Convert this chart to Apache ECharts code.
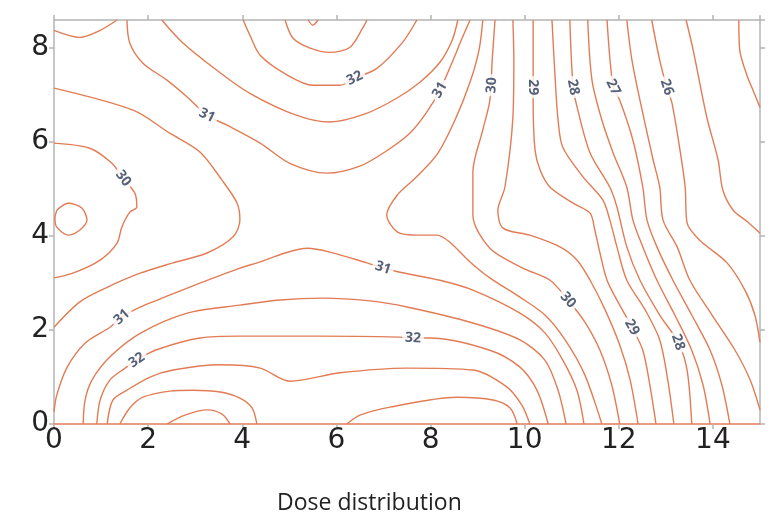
<!DOCTYPE html>
<html>
<head>
<meta charset="utf-8">
<script src="https://cdn.jsdelivr.net/npm/echarts@6/dist/echarts.min.js"></script>
<style>
html, body { margin: 0; padding: 0; background: #fff; }
#chart { width: 772px; height: 516px; }
</style>
</head>
<body>
<div id="chart"></div>
<script>
// contour lines, [x, y] in data units
const c31corner = [[0, 8.38], [0.55, 8.23], [0.98, 8.38], [1.34, 8.6]];
const c305left = [[0, 7.15], [1.68, 6.68], [2.46, 6.19], [3.10, 5.79], [3.57, 5.19], [3.89, 4.70], [3.95, 4.34], [3.80, 3.98], [3.25, 3.64], [2.53, 3.43], [1.83, 3.21], [1.13, 2.91], [0.55, 2.60], [0, 2.06]];
const c30left = [[0, 5.98], [0.76, 5.87], [1.23, 5.55], [1.47, 5.23], [1.72, 4.91], [1.76, 4.62], [1.61, 4.51], [1.44, 4.19], [1.34, 3.85], [0.98, 3.49], [0.40, 3.21], [0, 3.11]];
const c295loop = [[0.06, 4.55], [0.30, 4.70], [0.59, 4.60], [0.70, 4.34], [0.55, 4.13], [0.30, 4.02], [0.06, 4.19], [0.02, 4.38], [0.06, 4.55]];
const c31top = [[1.55, 8.6], [1.61, 8.11], [1.89, 7.68], [2.40, 7.32], [2.83, 6.96], [3.25, 6.57], [3.68, 6.36], [4.38, 5.98], [5.01, 5.55], [5.80, 5.34], [6.50, 5.49], [7.03, 5.79], [7.56, 6.19], [7.92, 6.64], [8.20, 7.11], [8.46, 7.70], [8.67, 8.21], [8.84, 8.6]];
const c315top = [[2.29, 8.6], [2.74, 8.11], [3.46, 7.53], [4.16, 7.04], [5.16, 6.57], [5.86, 6.43], [6.61, 6.60], [7.29, 6.94], [7.78, 7.28], [8.20, 7.70], [8.46, 8.17], [8.58, 8.6]];
const c32top = [[4.02, 8.6], [4.16, 8.28], [4.38, 7.85], [4.95, 7.43], [5.50, 7.21], [6.08, 7.21], [6.39, 7.36], [6.86, 7.57], [7.41, 8.13], [7.71, 8.6]];
const c325top = [[4.91, 8.6], [5.08, 8.21], [5.44, 8.0], [5.86, 7.91], [6.29, 8.02], [6.56, 8.43], [6.65, 8.6]];
const c33top = [[5.40, 8.6], [5.50, 8.49], [5.61, 8.6]];
const c305right = [[9.11, 8.6], [9.03, 7.96], [8.84, 7.28], [8.52, 6.47], [8.14, 5.74], [7.67, 5.23], [7.29, 4.87], [7.07, 4.45], [7.29, 4.09], [7.73, 4.02], [8.14, 4.02], [8.41, 3.87], [8.84, 3.45], [9.26, 3.11], [9.90, 2.70], [10.43, 2.32], [10.86, 1.79], [11.28, 1.04], [11.64, 0]];
const c30right = [[9.37, 8.6], [9.31, 7.74], [9.26, 6.89], [9.11, 6.26], [8.90, 5.36], [8.90, 4.45], [9.26, 3.74], [9.96, 3.32], [10.54, 3.06], [10.92, 2.64], [11.28, 2.17], [11.60, 1.57], [11.85, 0.83], [12.02, 0]];
const c295right = [[9.75, 8.6], [9.77, 7.74], [9.75, 6.53], [9.58, 5.04], [9.43, 4.55], [9.54, 4.17], [10.11, 4.02], [10.75, 3.77], [11.11, 3.49], [11.39, 3.06], [11.71, 2.43], [12.02, 1.68], [12.24, 0.94], [12.41, 0]];
const c29 = [[10.18, 8.6], [10.18, 7.38], [10.18, 6.89], [10.22, 5.83], [10.33, 5.40], [10.54, 5.04], [11.03, 4.70], [11.39, 4.49], [11.49, 4.13], [11.60, 3.64], [11.75, 3.06], [12.02, 2.53], [12.28, 2.06], [12.51, 1.57], [12.66, 0.83], [12.79, 0]];
const c285 = [[10.58, 8.6], [10.65, 7.32], [10.71, 6.47], [10.81, 5.89], [11.24, 5.26], [11.66, 4.77], [11.81, 4.34], [11.96, 3.77], [12.17, 3.06], [12.56, 2.43], [12.87, 1.79], [13.04, 0.94], [13.17, 0]];
const c28 = [[10.96, 8.6], [11.03, 7.17], [11.13, 6.68], [11.39, 5.77], [11.81, 5.04], [11.96, 4.62], [12.17, 3.77], [12.45, 3.06], [12.87, 2.32], [13.26, 1.74], [13.45, 1.15], [13.55, 0]];
const c275 = [[11.34, 8.6], [11.43, 7.32], [11.64, 6.47], [11.88, 5.77], [12.17, 5.04], [12.30, 4.34], [12.51, 3.77], [12.81, 3.06], [13.19, 2.32], [13.55, 1.57], [13.79, 0.83], [13.94, 0]];
const c27 = [[11.75, 8.6], [11.88, 7.17], [12.02, 6.89], [12.30, 6.04], [12.51, 5.04], [12.60, 4.34], [12.81, 3.77], [13.15, 3.06], [13.55, 2.32], [13.94, 1.57], [14.19, 0.83], [14.36, 0]];
const c265 = [[12.17, 8.6], [12.28, 7.74], [12.45, 6.89], [12.73, 5.62], [12.87, 5.04], [12.94, 4.34], [13.24, 3.77], [13.51, 3.06], [13.98, 2.32], [14.47, 1.57], [14.79, 0.94], [15, 0.30]];
const c26 = [[12.70, 8.6], [12.87, 7.74], [13.02, 7.17], [13.13, 6.83], [13.30, 5.83], [13.41, 5.04], [13.45, 4.28], [13.72, 3.91], [14.30, 3.43], [14.68, 2.85], [14.89, 2.32], [15, 1.74]];
const c255 = [[13.43, 8.6], [13.58, 7.96], [13.87, 6.53], [14.11, 5.62], [14.21, 4.98], [14.43, 4.55], [14.74, 4.30], [15, 4.06]];
const c25 = [[14.55, 8.6], [14.57, 7.96], [14.72, 7.43], [14.85, 7.11], [15, 6.74]];
const c31low = [[0, 0.26], [0.06, 0.62], [0.28, 1.21], [0.66, 1.72], [1.19, 2.06], [1.44, 2.28], [1.83, 2.49], [2.25, 2.66], [3.10, 3.00], [3.95, 3.32], [4.38, 3.45], [4.91, 3.64], [5.38, 3.74], [5.86, 3.66], [6.65, 3.43], [6.99, 3.32], [7.35, 3.23], [8.20, 3.06], [8.90, 2.85], [9.90, 2.36], [10.43, 1.94], [10.81, 1.36], [11.11, 0.72], [11.26, 0]];
const c315low = [[0.62, 0], [0.66, 0.51], [0.81, 0.94], [1.19, 1.43], [1.83, 1.93], [2.83, 2.36], [3.95, 2.53], [4.80, 2.64], [5.71, 2.68], [6.71, 2.62], [7.50, 2.49], [8.90, 2.15], [9.90, 1.79], [10.43, 1.36], [10.71, 0.72], [10.88, 0]];
const c32low = [[0.91, 0], [0.98, 0.51], [1.19, 0.94], [1.51, 1.19], [1.76, 1.36], [2.15, 1.57], [3.10, 1.83], [3.95, 1.87], [5.65, 1.87], [7.35, 1.85], [7.63, 1.83], [7.99, 1.83], [9.26, 1.57], [9.90, 1.21], [10.26, 0.72], [10.50, 0]];
const c325low = [[1.13, 0], [1.25, 0.51], [1.55, 0.72], [2.04, 1.00], [2.53, 1.15], [3.53, 1.26], [4.38, 1.19], [5.01, 0.91], [6.08, 1.09], [7.50, 1.19], [8.90, 1.15], [9.62, 0.79], [9.94, 0.40], [10.11, 0]];
const c33lowL = [[1.40, 0], [1.61, 0.34], [1.89, 0.57], [2.46, 0.70], [2.95, 0.72], [3.53, 0.68], [3.95, 0.55], [4.21, 0.34], [4.31, 0]];
const c33lowR = [[6.22, 0], [6.50, 0.19], [7.14, 0.36], [8.56, 0.57], [9.33, 0.51], [9.69, 0.34], [9.84, 0]];
const c335 = [[2.40, 0], [2.78, 0.19], [3.25, 0.30], [3.57, 0.21], [3.74, 0]];

const contours = {
  c31corner, c305left, c30left, c295loop, c31top, c315top, c32top, c325top, c33top,
  c305right, c30right, c295right, c29, c285, c28, c275, c27, c265, c26, c255, c25,
  c31low, c315low, c32low, c325low, c33lowL, c33lowR, c335
};

// contour labels: [x, y, text, contour]
const contourLabels = [
  [3.25, 6.57, '31', 'c31top'],
  [1.47, 5.23, '30', 'c30left'],
  [6.39, 7.36, '32', 'c32top'],
  [8.20, 7.11, '31', 'c31top'],
  [9.30, 7.21, '30', 'c30right'],
  [10.18, 7.17, '29', 'c29'],
  [11.03, 7.17, '28', 'c28'],
  [11.88, 7.17, '27', 'c27'],
  [13.02, 7.17, '26', 'c26'],
  [6.99, 3.32, '31', 'c31low'],
  [1.44, 2.28, '31', 'c31low'],
  [1.76, 1.36, '32', 'c32low'],
  [7.63, 1.83, '32', 'c32low'],
  [10.92, 2.64, '30', 'c30right'],
  [12.28, 2.06, '29', 'c29'],
  [13.26, 1.74, '28', 'c28']
];

const lineColor = '#e27c55';
const frameColor = '#b4b4b4';

const chart = echarts.init(document.getElementById('chart'));

function axisCommon(max) {
  return {
    type: 'value',
    min: 0,
    max: max,
    interval: 2,
    splitLine: { show: false },
    axisTick: { show: true, length: 5, lineStyle: { color: frameColor, width: 1.5 } },
    axisLine: { show: true, onZero: false, lineStyle: { color: frameColor, width: 1.5 } }
  };
}

const tickFont = { fontSize: 28, color: '#222', fontFamily: 'DejaVu Sans' };

const option = {
  animation: false,
  backgroundColor: '#fff',
  title: {
    text: 'Dose distribution',
    left: 272,
    top: 487,
    textStyle: { fontSize: 23, fontWeight: 'normal', color: '#222', fontFamily: 'Open Sans' }
  },
  grid: { left: 54, right: 12, top: 20, bottom: 92 },
  xAxis: [
    Object.assign(axisCommon(15), {
      position: 'bottom',
      axisLine: { show: true, onZero: false, lineStyle: { color: lineColor, width: 1.5 } },
      axisLabel: Object.assign({ margin: 3, showMaxLabel: false }, tickFont)
    }),
    Object.assign(axisCommon(15), { position: 'top', axisLabel: { show: false } })
  ],
  yAxis: [
    Object.assign(axisCommon(8.6), {
      position: 'left',
      axisLabel: Object.assign({ margin: 5, showMaxLabel: false }, tickFont)
    }),
    Object.assign(axisCommon(8.6), { position: 'right', axisLabel: { show: false } })
  ],
  series: Object.keys(contours).map(name => ({
    name: name,
    type: 'line',
    data: contours[name],
    showSymbol: false,
    smooth: 0.3,
    silent: true,
    lineStyle: { color: lineColor, width: 1.4 },
    z: 2
  }))
};

chart.setOption(option);

// turn each label along its line
const labelData = contourLabels.map(([x, y, text, name]) => {
  const p = chart.convertToPixel({ xAxisIndex: 0, yAxisIndex: 0 }, [x, y]);
  const pts = contours[name].map(d => chart.convertToPixel({ xAxisIndex: 0, yAxisIndex: 0 }, d));
  let best = Infinity, angle = 0;
  for (let i = 0; i < pts.length - 1; i++) {
    const a = pts[i], b = pts[i + 1];
    const mx = (a[0] + b[0]) / 2, my = (a[1] + b[1]) / 2;
    const dd = (mx - p[0]) ** 2 + (my - p[1]) ** 2;
    if (dd < best) {
      best = dd;
      angle = -Math.atan2(b[1] - a[1], b[0] - a[0]) * 180 / Math.PI;
    }
  }
  if (angle > 90) angle -= 180;
  if (angle < -90) angle += 180;
  return { value: [x, y, text], label: { rotate: angle } };
});

chart.setOption({
  series: option.series.concat([{
    name: 'labels',
    type: 'scatter',
    data: labelData,
    symbolSize: 1,
    silent: true,
    itemStyle: { color: 'transparent' },
    z: 5,
    label: {
      show: true,
      position: 'inside',
      formatter: p => p.value[2],
      color: '#2b3a58',
      fontSize: 14,
      fontWeight: 'bold',
      fontFamily: 'Open Sans',
      backgroundColor: '#fff',
      padding: [0, 3]
    }
  }])
});
</script>
</body>
</html>
